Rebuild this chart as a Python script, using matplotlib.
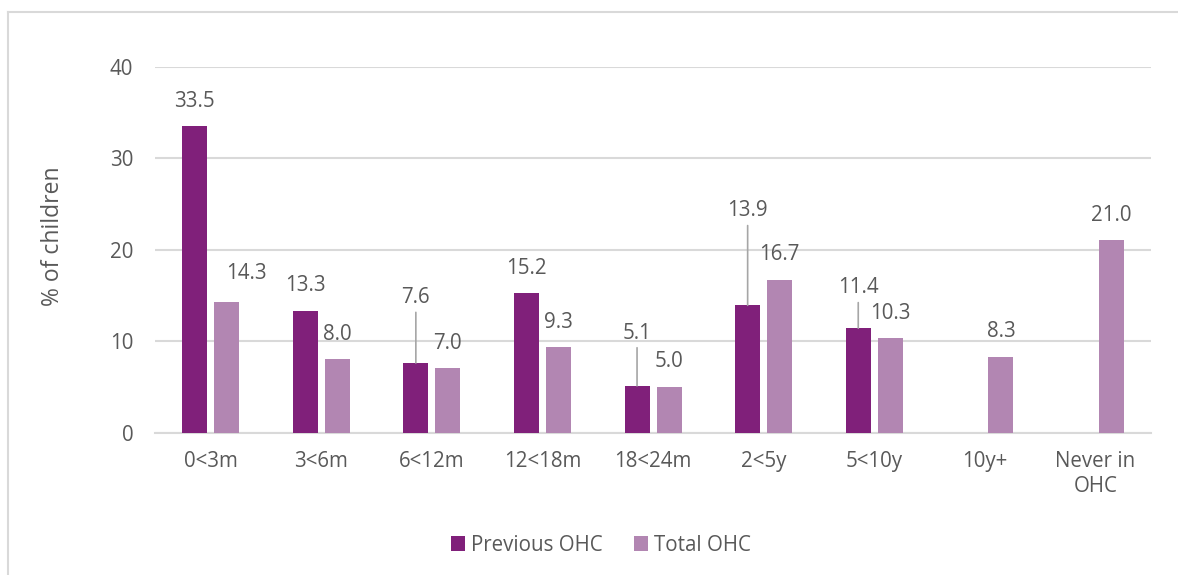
import matplotlib
matplotlib.use('Agg')
import matplotlib.pyplot as plt
from matplotlib.lines import Line2D
import numpy as np

# Time spent in out-of-home care (OHC)
categories = ['0<3m', '3<6m', '6<12m', '12<18m', '18<24m', '2<5y', '5<10y', '10y+', 'Never in\nOHC']
previous_ohc = [33.5, 13.3, 7.6, 15.2, 5.1, 13.9, 11.4, np.nan, np.nan]
total_ohc = [14.3, 8.0, 7.0, 9.3, 5.0, 16.7, 10.3, 8.3, 21.0]
y_ticks = [0, 10, 20, 30, 40]

# Colours and text style
dark_purple = '#80207A'
light_purple = '#B286B2'
text_color = '#595959'
grid_color = '#D9D9D9'
font_size = 14.8

plt.rcParams['font.family'] = ['Open Sans', 'DejaVu Sans']

fig = plt.figure(figsize=(11.78, 5.75), dpi=100)
ax = fig.add_axes([0.1319, 0.2478, 0.8450, 0.6365])

x = np.arange(len(categories))
bar_w = 0.226
shift = 0.145

bars_prev = ax.bar(x - shift, previous_ohc, bar_w, color=dark_purple, label='Previous OHC', zorder=3)
bars_total = ax.bar(x + shift, total_ohc, bar_w, color=light_purple, label='Total OHC', zorder=3)

# Data labels: default sits just above the bar; a few are nudged (in points),
# with a leader line back to the bar when lifted far away
base_offset = 18
label_nudge = {
    ('prev', 2): (0, 29),
    ('prev', 4): (0, 20),
    ('prev', 5): (0, 50),
    ('prev', 6): (0, 11),
    ('total', 0): (14, 2),
}

for key, xs, vals in (('prev', x - shift, previous_ohc), ('total', x + shift, total_ohc)):
    for i, (xi, v) in enumerate(zip(xs, vals)):
        if np.isnan(v):
            continue
        dx, dy = label_nudge.get((key, i), (0, 0))
        leader = dict(arrowstyle='-', color='#A6A6A6', lw=1.2, shrinkA=1, shrinkB=0) if dy > 8 else None
        ax.annotate(f'{v:.1f}', xy=(xi, v), xytext=(dx, base_offset + dy),
                    textcoords='offset points', ha='center', va='center',
                    fontsize=font_size, color=text_color, arrowprops=leader, zorder=4)

ax.set_xlim(-0.5, len(categories) - 0.5)
ax.set_ylim(0, 40)
ax.set_yticks(y_ticks)
ax.set_xticks(x)
ax.set_xticklabels(categories, linespacing=1.3)
ax.tick_params(axis='both', length=0, labelsize=font_size, colors=text_color)
ax.tick_params(axis='x', pad=13)
ax.tick_params(axis='y', pad=16)

ax.yaxis.grid(True, color=grid_color, lw=1.5, zorder=0)
for side in ('top', 'right', 'left'):
    ax.spines[side].set_visible(False)
ax.spines['bottom'].set_color(grid_color)
ax.spines['bottom'].set_linewidth(1.5)

fig.text(53 / 1178, 1 - 236 / 575, '% of children', rotation=90, ha='center', va='center',
         fontsize=16.5, color=text_color)

fig.legend(handles=[bars_prev, bars_total], loc='center', bbox_to_anchor=(0.51, 0.052),
           ncol=2, frameon=False, fontsize=font_size, labelcolor=text_color,
           handlelength=0.7, handleheight=0.7, handletextpad=0.3, columnspacing=1.5)

# Chart-area border (top and left edges)
fig.add_artist(Line2D([7.5 / 1178, 7.5 / 1178], [0, 1 - 12 / 575], transform=fig.transFigure,
                      color=grid_color, lw=1.5))
fig.add_artist(Line2D([7.5 / 1178, 1], [1 - 12 / 575, 1 - 12 / 575], transform=fig.transFigure,
                      color=grid_color, lw=1.5))

fig.savefig('out.png', dpi=100)
